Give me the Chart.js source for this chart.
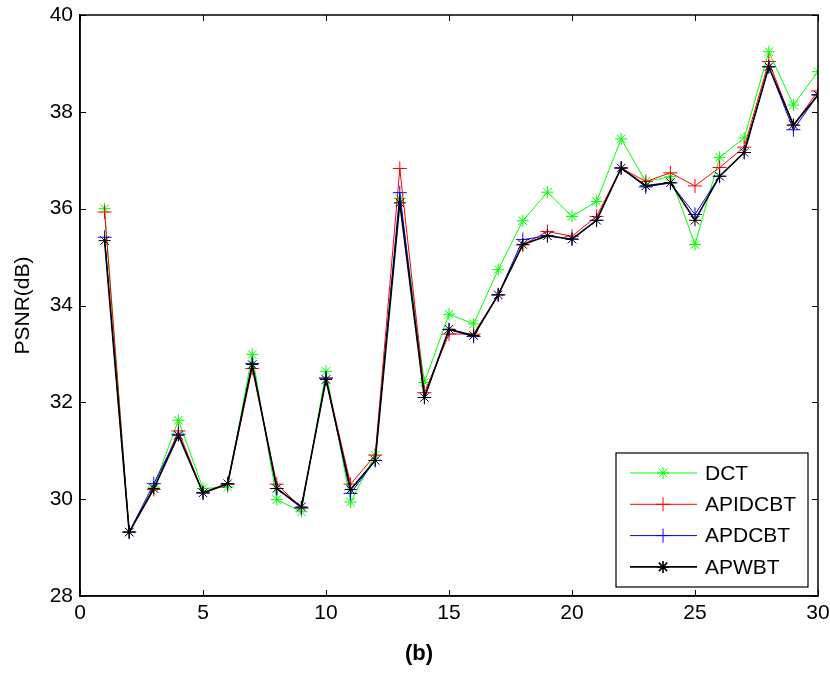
<!DOCTYPE html>
<html>
<head>
<meta charset="utf-8">
<script src="https://cdn.jsdelivr.net/npm/chart.js@4/dist/chart.umd.min.js"></script>
<style>
html,body{margin:0;padding:0;background:#fff;}
#wrap{width:830px;height:674px;}
</style>
</head>
<body>
<div id="wrap"><canvas id="c" width="830" height="674"></canvas></div>
<script>
const xValues = [1,2,3,4,5,6,7,8,9,10,11,12,13,14,15,16,17,18,19,20,21,22,23,24,25,26,27,28,29,30];
const dct     = [36.00,29.32,30.25,31.63,30.22,30.25,32.99,29.99,29.74,32.64,29.94,30.91,36.21,32.41,33.82,33.62,34.74,35.75,36.34,35.84,36.15,37.44,36.56,36.66,35.26,37.06,37.46,39.24,38.14,38.83];
const apidcbt = [35.93,29.32,30.20,31.41,30.13,30.30,32.70,30.31,29.82,32.50,30.31,30.91,36.83,32.20,33.41,33.41,34.22,35.25,35.53,35.43,35.84,36.84,36.56,36.74,36.47,36.85,37.27,39.04,37.72,38.43];
const apdcbt  = [35.41,29.32,30.32,31.34,30.13,30.32,32.80,30.22,29.82,32.50,30.12,30.80,36.33,32.10,33.50,33.36,34.22,35.36,35.44,35.37,35.76,36.84,36.45,36.53,35.88,36.67,37.16,38.93,37.63,38.35];
const apwbt   = [35.34,29.32,30.22,31.32,30.13,30.32,32.78,30.22,29.84,32.47,30.20,30.80,36.12,32.10,33.51,33.38,34.22,35.26,35.44,35.37,35.76,36.84,36.47,36.54,35.76,36.67,37.16,38.93,37.73,38.35];
const seriesNames = ['DCT','APIDCBT','APDCBT','APWBT'];
const xTicks = [0,5,10,15,20,25,30];
const yTicks = [28,30,32,34,36,38,40];

const FONT = "'Liberation Sans', Arial, sans-serif";
const styles = [
  {color:'#00ff00', point:'star', radius:6, width:1},
  {color:'#ff0000', point:'cross', radius:7, width:1},
  {color:'#0000ff', point:'cross', radius:7, width:1},
  {color:'#000000', point:'star', radius:6, width:1.6}
];
const allData = [dct, apidcbt, apdcbt, apwbt];

const datasets = allData.map((arr, i) => ({
  label: seriesNames[i],
  data: arr.map((v, j) => ({x: xValues[j], y: v})),
  borderColor: styles[i].color,
  backgroundColor: styles[i].color,
  borderWidth: styles[i].width,
  pointStyle: styles[i].point,
  pointRadius: styles[i].radius,
  pointBorderWidth: 1,
  pointBorderColor: styles[i].color,
  tension: 0,
  order: 4 - i
}));

const boxPlugin = {
  id: 'boxPlugin',
  afterDatasetsDraw(chart) {
    const ctx = chart.ctx, a = chart.chartArea;
    const xs = chart.scales.x, ys = chart.scales.y;
    ctx.save();
    ctx.strokeStyle = '#000';
    ctx.lineWidth = 1.5;
    ctx.strokeRect(a.left, a.top, a.right - a.left, a.bottom - a.top);
    ctx.lineWidth = 1;
    const tl = 6;
    ctx.beginPath();
    xTicks.forEach(t => {
      const px = Math.round(xs.getPixelForValue(t)) + 0.5;
      ctx.moveTo(px, a.bottom); ctx.lineTo(px, a.bottom - tl);
      ctx.moveTo(px, a.top); ctx.lineTo(px, a.top + tl);
    });
    yTicks.forEach(t => {
      const py = Math.round(ys.getPixelForValue(t)) + 0.5;
      ctx.moveTo(a.left, py); ctx.lineTo(a.left + tl, py);
      ctx.moveTo(a.right, py); ctx.lineTo(a.right - tl, py);
    });
    ctx.stroke();

    // legend inside plot
    const L = 616, T = 453, W = 192, H = 134;
    ctx.fillStyle = '#fff';
    ctx.fillRect(L, T, W, H);
    ctx.lineWidth = 1.2;
    ctx.strokeStyle = '#000';
    ctx.strokeRect(L, T, W, H);
    ctx.font = '21px ' + FONT;
    ctx.textBaseline = 'middle';
    ctx.textAlign = 'left';
    seriesNames.forEach((name, i) => {
      const cy = T + 20 + i * 31.3;
      const st = styles[i];
      ctx.strokeStyle = st.color;
      ctx.lineWidth = st.width;
      ctx.beginPath();
      ctx.moveTo(630, cy); ctx.lineTo(697, cy);
      ctx.stroke();
      Chart.helpers.drawPoint(ctx, {pointStyle: st.point, radius: st.radius, borderWidth: 1}, 663, cy);
      ctx.fillStyle = '#000';
      ctx.fillText(name, 705, cy + 1);
    });
    ctx.restore();
  }
};

new Chart(document.getElementById('c'), {
  type: 'line',
  data: { datasets },
  options: {
    responsive: false,
    animation: false,
    devicePixelRatio: 1,
    layout: { padding: { left: 20, right: 12, top: 15, bottom: 0 } },
    plugins: {
      legend: { display: false },
      tooltip: { enabled: false },
      title: {
        display: true,
        position: 'bottom',
        text: '(b)',
        color: '#000',
        font: { family: FONT, size: 22, weight: 'bold' },
        padding: { top: 0, bottom: 7 }
      }
    },
    scales: {
      x: {
        type: 'linear',
        min: 0, max: 30,
        afterFit(s) { s.height = 44.6; s.paddingLeft = 0; s.paddingRight = 0; },
        afterBuildTicks(s) { s.ticks = xTicks.map(v => ({value: v})); },
        grid: { display: false, drawTicks: false },
        border: { display: true, color: '#000', width: 1.5 },
        ticks: { color: '#000', padding: 5, font: { family: FONT, size: 21 }, maxRotation: 0 }
      },
      y: {
        type: 'linear',
        min: 28, max: 40,
        afterFit(s) { s.width = 60; s.paddingTop = 0; s.paddingBottom = 0; },
        afterBuildTicks(s) { s.ticks = yTicks.map(v => ({value: v})); },
        grid: { display: false, drawTicks: false },
        border: { display: true, color: '#000', width: 1.5 },
        ticks: { color: '#000', padding: 7, font: { family: FONT, size: 21 } },
        title: {
          display: true,
          text: 'PSNR(dB)',
          color: '#000',
          font: { family: FONT, size: 21 },
          padding: { top: -9, bottom: 0 }
        }
      }
    }
  },
  plugins: [boxPlugin]
});
</script>
</body>
</html>
